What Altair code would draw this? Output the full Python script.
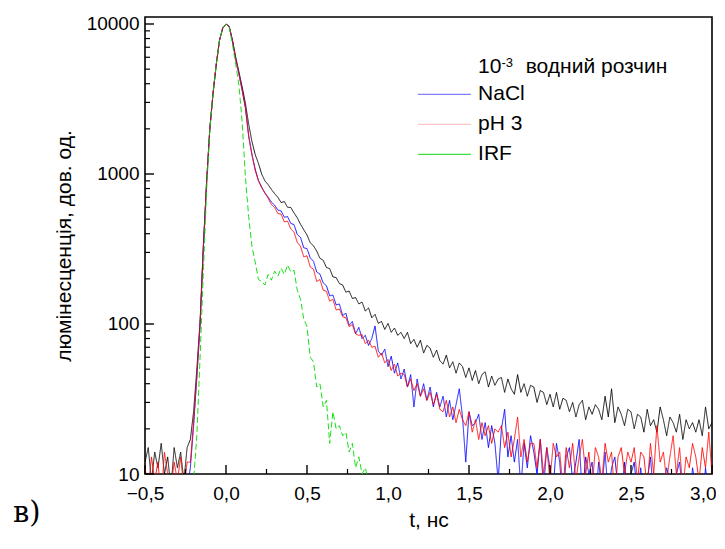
import altair as alt
import pandas as pd

# ---------------- data ----------------
T_START = -0.5
T_STEP = 0.02

WATER = [
    12, 15, 9, 14, 11, 16, 10, 13, 8, 15,
    11, 14, 9, 15, 17, 26, 50, 105, 330, 880,
    2000, 3450, 5400, 7800, 9400, 10000, 9600, 7800, 6000, 4800,
    3800, 2950, 2150, 1650, 1350, 1180, 1000, 900, 850, 790,
    740, 700, 645, 655, 600, 598, 550, 510, 462, 425,
    392, 348, 332, 306, 274, 266, 238, 234, 206, 204,
    186, 182, 163, 166, 148, 150, 136, 140, 122, 128,
    110, 116, 101, 104, 92, 101, 88, 94, 84, 88,
    80, 88, 74, 79, 70, 78, 64, 72, 69, 60,
    67, 57, 54, 62, 51, 56, 47, 55, 52, 44,
    51, 42, 49, 40, 46, 48, 38, 45, 39, 43,
    44, 35, 43, 37, 34, 46, 35, 40, 33, 39,
    38, 30, 36, 35, 29, 34, 28, 35, 27, 32,
    31, 26, 30, 24, 29, 31, 23, 28, 25, 29,
    27, 23, 33, 24, 37, 22, 28, 25, 21, 27,
    26, 20, 25, 24, 19, 27, 21, 23, 19, 28,
    23, 18, 24, 22, 19, 25, 17, 23, 20, 22,
    19, 23, 18, 28, 20, 22,
]

NACL = [
    8, 7, 9, 8, 7, 9, 8, 7, 9, 8,
    7, 9, 8, 8, 11, 21, 44, 98, 315, 860,
    1990, 3440, 5400, 7800, 9400, 10000, 9620, 7720, 5820, 4650,
    3620, 2770, 1800, 1360, 1080, 910, 820, 750, 700, 650,
    620, 575, 568, 515, 520, 468, 460, 395, 378, 322,
    318, 276, 262, 222, 215, 188, 180, 154, 156, 134,
    136, 114, 118, 98, 104, 86, 95, 80, 84, 72,
    80, 97, 66, 62, 68, 52, 61, 47, 55, 43,
    50, 38, 46, 28, 43, 33, 40, 31, 38, 28,
    35, 28, 33, 24, 31, 23, 29, 37, 24, 12,
    26, 21, 22, 25, 17, 22, 15, 21, 16, 9,
    20, 27, 13, 18, 12, 17, 8, 16, 11, 18,
    14, 10, 17, 8, 15, 11, 8, 16, 12, 6,
    13, 15, 9, 12, 17, 7, 13, 10, 12, 6,
    12, 8, 14, 7, 11, 13, 8, 6, 12, 7,
    10, 12, 7, 11, 6, 9, 13, 7, 10, 6,
    8, 11, 9, 6, 10, 12, 7, 9, 6, 11,
    8, 10, 6, 11, 7, 9,
]

PH3 = [
    11, 8, 13, 9, 12, 7, 14, 10, 8, 12,
    9, 13, 8, 12, 12, 22, 45, 100, 320, 870,
    2000, 3450, 5400, 7800, 9400, 10000, 9600, 7700, 5800, 4600,
    3600, 2750, 1780, 1340, 1060, 900, 810, 745, 690, 625,
    600, 545, 540, 480, 485, 430, 410, 350, 330, 280,
    285, 240, 232, 192, 198, 168, 165, 142, 146, 124,
    126, 112, 110, 96, 99, 86, 84, 85, 74, 78,
    70, 71, 60, 64, 55, 58, 49, 54, 45, 47,
    46, 38, 43, 36, 40, 33, 37, 31, 35, 29,
    34, 27, 26, 31, 24, 28, 22, 27, 23, 21,
    26, 19, 23, 17, 22, 18, 21, 16, 20, 19,
    21, 15, 19, 13, 17, 24, 13, 17, 12, 16,
    16, 11, 17, 10, 15, 9, 16, 13, 14, 8,
    15, 11, 16, 9, 13, 17, 10, 14, 8, 15,
    13, 9, 16, 12, 14, 7, 13, 15, 10, 14,
    12, 15, 9, 14, 13, 8, 16, 10, 21, 12,
    14, 9, 13, 18, 10, 15, 8, 13, 11, 16,
    13, 9, 15, 11, 19, 10,
]

IRF = [
    6, 7, 6, 5, 7, 6, 6, 7, 5, 6,
    6, 7, 6, 7, 8, 9, 18, 60, 220, 760,
    1950, 3400, 5350, 7750, 9400, 10000, 9500, 7300, 5400, 3900,
    2200, 950, 520, 330, 260, 198, 192, 182, 214, 196,
    225, 208, 236, 214, 248, 222, 228, 168, 146, 108,
    96, 60, 56, 38, 40, 28, 31, 16, 26, 20,
    21, 18, 19, 14, 16, 11, 13, 10, 11, 9,
    8,
]

SERIES_NAMES = ["H2O", "NaCl", "pH 3", "IRF"]
SERIES_VALUES = [WATER, NACL, PH3, IRF]
SERIES_COLORS = ["#000000", "#0000ff", "#ff0000", "#00dd00"]
SERIES_DASH = [[1, 0], [1, 0], [1, 0], [6, 3]]

X_DOMAIN = [-0.5, 3.0]
Y_DOMAIN = [10, 11134]
X_MAJOR = [-0.5, 0.0, 0.5, 1.0, 1.5, 2.0, 2.5, 3.0]
X_MINOR = [-0.25, 0.25, 0.75, 1.25, 1.75, 2.25, 2.75]
Y_MAJOR = [10, 100, 1000, 10000]
Y_MINOR = [20, 30, 40, 50, 60, 70, 80, 90,
           200, 300, 400, 500, 600, 700, 800, 900,
           2000, 3000, 4000, 5000, 6000, 7000, 8000, 9000]

LEG_LABELS = ["NaCl", "pH 3", "IRF"]
LEG_COLORS = ["#7f7fff", "#ffc4c4", "#3fdf3f"]
LEG_V = [3400, 2145, 1353]
LEG_T0, LEG_T1, LEG_TXT = 1.185, 1.512, 1.556
TITLE_PARTS = ["10", "-3", "водний розчин"]
TITLE_T = [1.556, 1.700, 1.850]
TITLE_V = [4713, 5170, 4713]
TITLE_SIZE = [21, 13, 21]

PANEL_LABEL = "в)"

# ---------------- chart ----------------
W, H = 567, 457
FONT = "Liberation Sans"

xs = alt.Scale(domain=X_DOMAIN, nice=False, zero=False)
ys = alt.Scale(type="log", domain=Y_DOMAIN, nice=False)

x_axis = alt.Axis(
    values=X_MAJOR,
    labelExpr="replace(format(datum.value, '.1f'), '.', ',')",
    ticks=False, tickSize=0, domain=False, grid=False,
    labelFlush=False,
    labelAlign={"condition": {"test": "datum.value == 3", "value": "right"}, "value": "center"},
    labelOffset={"condition": {"test": "datum.value == 3", "value": 4}, "value": 0},
    labelFont=FONT, labelFontSize=19, labelColor="black", labelPadding=10,
    title="t, нс", titleFont=FONT, titleFontSize=21, titleFontWeight="normal",
    titleColor="black", titlePadding=6,
)
y_axis = alt.Axis(
    values=Y_MAJOR, format="d",
    ticks=False, tickSize=0, domain=False, grid=False,
    labelFont=FONT, labelFontSize=19, labelColor="black", labelPadding=6,
    title="люмінесценція, дов. од.", titleFont=FONT, titleFontSize=21,
    titleFontWeight="normal", titleColor="black", titlePadding=12,
)


def X(field="t"):
    return alt.X(field, type="quantitative", scale=xs, axis=x_axis)


def Y(field="v"):
    return alt.Y(field, type="quantitative", scale=ys, axis=y_axis)


layers = []
for name, vals, col, dash in zip(SERIES_NAMES, SERIES_VALUES, SERIES_COLORS, SERIES_DASH):
    df = pd.DataFrame({
        "t": [round(T_START + T_STEP * i, 3) for i in range(len(vals))],
        "v": vals,
        "s": name,
    })
    layers.append(
        alt.Chart(df).mark_line(color=col, strokeWidth=1, strokeDash=dash, clip=True,
                                opacity=0.9)
        .encode(x=X(), y=Y())
    )

# inward ticks
xmaj = pd.DataFrame({"t": X_MAJOR})
xmin = pd.DataFrame({"t": X_MINOR})
ymaj = pd.DataFrame({"v": Y_MAJOR})
ymin = pd.DataFrame({"v": Y_MINOR})
layers.append(alt.Chart(xmaj).mark_rule(color="black", strokeWidth=1.4)
              .encode(x=X(), y=alt.value(H), y2=alt.value(H - 9)))
layers.append(alt.Chart(xmin).mark_rule(color="black", strokeWidth=1.2)
              .encode(x=X(), y=alt.value(H), y2=alt.value(H - 5)))
layers.append(alt.Chart(ymaj).mark_rule(color="black", strokeWidth=1.4)
              .encode(y=Y(), x=alt.value(0), x2=alt.value(9)))
layers.append(alt.Chart(ymin).mark_rule(color="black", strokeWidth=1.2)
              .encode(y=Y(), x=alt.value(0), x2=alt.value(5)))

# legend
leg = pd.DataFrame({
    "t": [LEG_T0] * 3, "t2": [LEG_T1] * 3, "tl": [LEG_TXT] * 3,
    "v": LEG_V, "c": LEG_COLORS, "label": LEG_LABELS,
})
layers.append(alt.Chart(leg).mark_rule(strokeWidth=1.2)
              .encode(x=X("t"), x2="t2", y=Y(), color=alt.Color("c:N", scale=None)))
layers.append(alt.Chart(leg).mark_text(font=FONT, fontSize=21, align="left",
                                       baseline="middle", color="black")
              .encode(x=X("tl"), y=Y(), text="label:N"))
ttl = pd.DataFrame({"t": TITLE_T, "v": TITLE_V, "txt": TITLE_PARTS, "fs": TITLE_SIZE})
layers.append(alt.Chart(ttl).mark_text(font=FONT, align="left", baseline="alphabetic",
                                       color="black")
              .encode(x=X(), y=Y(), text="txt:N", size=alt.Size("fs:Q", scale=None, legend=None)))

# panel label
pl = pd.DataFrame({"txt": [PANEL_LABEL]})
layers.append(alt.Chart(pl).mark_text(font="DejaVu Serif", fontSize=29, align="left",
                                      baseline="alphabetic", color="black")
              .encode(x=alt.value(-132), y=alt.value(505), text="txt:N"))

chart = (
    alt.layer(*layers)
    .properties(width=W, height=H,
                autosize=alt.AutoSizeParams(type="none"),
                padding={"left": 137, "top": 9, "right": 4, "bottom": 60},
                background="white")
    .configure_view(stroke="black", strokeWidth=1.6)
)

chart.save("out.html", embed_options={"renderer": "svg", "actions": False})
